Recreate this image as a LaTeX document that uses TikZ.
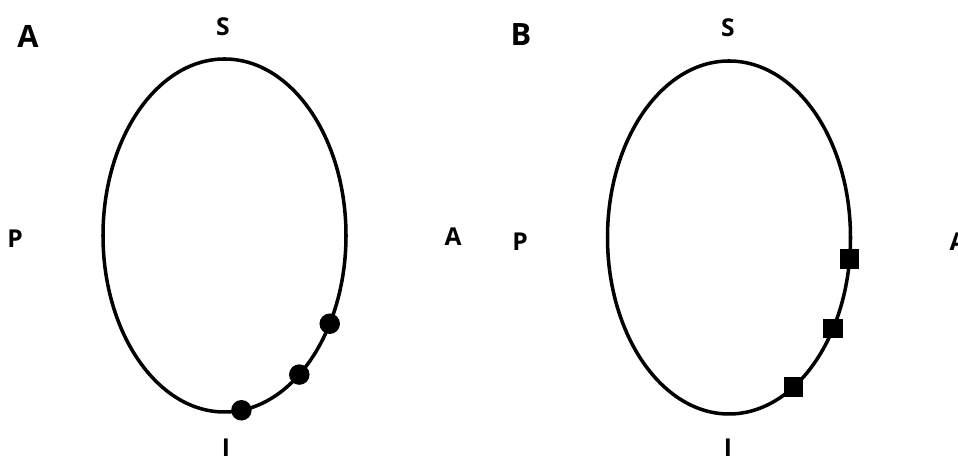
\documentclass[tikz,border=0pt]{standalone}
\usepackage{fontspec}
\setmainfont{Open Sans}
\usetikzlibrary{shapes.geometric}

\begin{document}
\begin{tikzpicture}[
  orbit/.style={draw, ellipse, line width=2pt, inner sep=0pt,
    minimum width=4.86cm, minimum height=7.06cm},
  dot/.style={circle, fill=black, inner sep=0pt, minimum size=0.41cm},
  sq/.style={rectangle, fill=black, inner sep=0pt, minimum size=0.39cm},
  lab/.style={font=\fontsize{14}{16}\selectfont\bfseries, inner sep=0pt},
  panel/.style={font=\fontsize{17.5}{20}\selectfont\bfseries, inner sep=0pt}]
  \useasboundingbox (0,0) rectangle (19.16,9.16);
  % panel A
  \node[panel] (pA) at (0.56,8.44) {A};
  \node[orbit] (orbA) at (4.49,4.45) {};
  \node[lab] (sA) at (4.46,8.62) {S};
  \node[lab] (iA) at (4.52,0.20) {I};
  \node[lab] (pLA) at (0.30,4.38) {P};
  \node[lab] (aLA) at (9.06,4.42) {A};
  \foreach \t [count=\k] in {-30,-52,-82}
    \path (orbA.center) ++({2.43*cos(\t)},{3.53*sin(\t)}) node[dot] (a\k) {};
  % panel B
  \node[panel] (pB) at (10.42,8.46) {B};
  \node[orbit] (orbB) at (14.58,4.41) {};
  \node[lab] (sB) at (14.56,8.60) {S};
  \node[lab] (iB) at (14.56,0.20) {I};
  \node[lab] (pLB) at (10.40,4.32) {P};
  \node[lab] (aLB) at (19.16,4.32) {A};
  \foreach \t [count=\k] in {-7,-31,-58}
    \path (orbB.center) ++({2.43*cos(\t)},{3.53*sin(\t)}) node[sq] (b\k) {};
\end{tikzpicture}
\end{document}
